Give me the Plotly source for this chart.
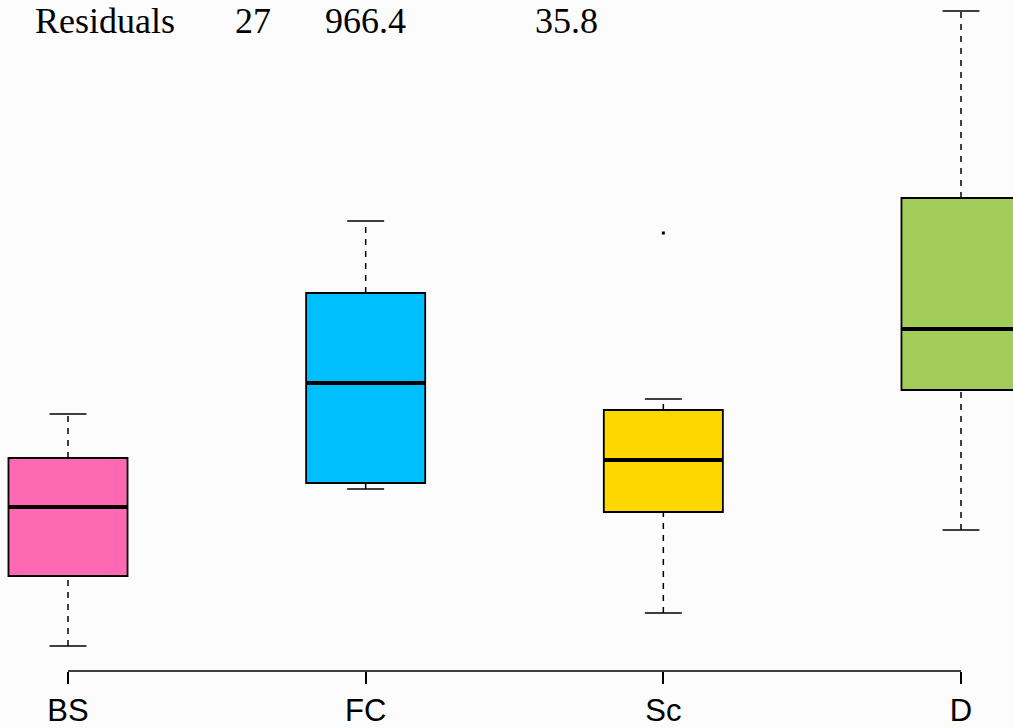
import plotly.graph_objects as go

# ---- data ----
categories = ["BS", "FC", "Sc", "D"]
lower_whisker = [5.4, 21.1, 8.7, 17.0]
q1_vals = [12.4, 21.7, 18.8, 31.0]
medians = [19.3, 31.7, 24.0, 37.1]
q3_vals = [24.2, 40.7, 29.0, 50.2]
upper_whisker = [28.6, 47.9, 30.1, 68.9]
outlier_group = [2]
outlier_vals = [46.7]
fill_colors = ["#FF69B4", "#00BFFF", "#FFD700", "#A2CD5A"]

header_texts = ["Residuals", "27", "966.4", "35.8"]
header_x_px = [33, 233, 323, 533]

W, H = 1013, 728
BOX_W = 0.4
CAP_HALF = 0.062

fig = go.Figure()
xs = list(range(len(categories)))

for i, cat in enumerate(categories):
    fig.add_trace(go.Box(
        x=[i], q1=[q1_vals[i]], median=[medians[i]], q3=[q3_vals[i]],
        lowerfence=[q1_vals[i]], upperfence=[q3_vals[i]],
        width=BOX_W, fillcolor=fill_colors[i],
        line=dict(color="black", width=1.8), whiskerwidth=0,
        boxpoints=False, showlegend=False, hoverinfo="skip", name=cat,
    ))

# dashed whiskers
wx, wy = [], []
for i in xs:
    wx += [i, i, None, i, i, None]
    wy += [q3_vals[i], upper_whisker[i], None, lower_whisker[i], q1_vals[i], None]
fig.add_trace(go.Scatter(x=wx, y=wy, mode="lines",
                         line=dict(color="black", width=1.5, dash="6px,6px"),
                         showlegend=False, hoverinfo="skip"))

# caps
cx, cy = [], []
for i in xs:
    cx += [i - CAP_HALF, i + CAP_HALF, None, i - CAP_HALF, i + CAP_HALF, None]
    cy += [upper_whisker[i], upper_whisker[i], None, lower_whisker[i], lower_whisker[i], None]
fig.add_trace(go.Scatter(x=cx, y=cy, mode="lines",
                         line=dict(color="black", width=1.5),
                         showlegend=False, hoverinfo="skip"))

# thick medians
mx, my = [], []
for i in xs:
    mx += [i - BOX_W / 2, i + BOX_W / 2, None]
    my += [medians[i], medians[i], None]
fig.add_trace(go.Scatter(x=mx, y=my, mode="lines",
                         line=dict(color="black", width=4),
                         showlegend=False, hoverinfo="skip"))

# outlier
fig.add_trace(go.Scatter(x=outlier_group, y=outlier_vals, mode="markers",
                         marker=dict(symbol="square", size=3, color="black"),
                         showlegend=False, hoverinfo="skip"))

# bottom axis line only between first and last tick
fig.add_shape(type="line", xref="x", yref="paper", x0=xs[0], x1=xs[-1], y0=0, y1=0,
              line=dict(color="black", width=1.5))

ML, MR, MT, MB = 0, 0, 0, 57
plot_h = H - MT - MB
for txt, px in zip(header_texts, header_x_px):
    fig.add_annotation(text=txt, xref="paper", yref="paper",
                       x=px / W, y=1 - 21 / plot_h, xanchor="left", yanchor="middle",
                       showarrow=False,
                       font=dict(family="Liberation Serif, serif", size=36, color="black"))

px_per_unit = (961 - 68) / 3
fig.update_layout(
    width=W, height=H,
    margin=dict(l=ML, r=MR, t=MT, b=MB),
    paper_bgcolor="#FCFCFC", plot_bgcolor="#FCFCFC",
    xaxis=dict(range=[-68 / px_per_unit, 3 + (W - 961) / px_per_unit],
               tickvals=xs, ticktext=categories, ticks="outside", ticklen=12,
               tickwidth=1.5, tickcolor="black", showgrid=False, zeroline=False,
               showline=False,
               tickfont=dict(family="Liberation Sans, Arial, sans-serif",
                             size=31, color="black")),
    yaxis=dict(range=[2.9, 70], showticklabels=False, ticks="", showgrid=False,
               zeroline=False, showline=False),
)

fig.write_html("out.html")
